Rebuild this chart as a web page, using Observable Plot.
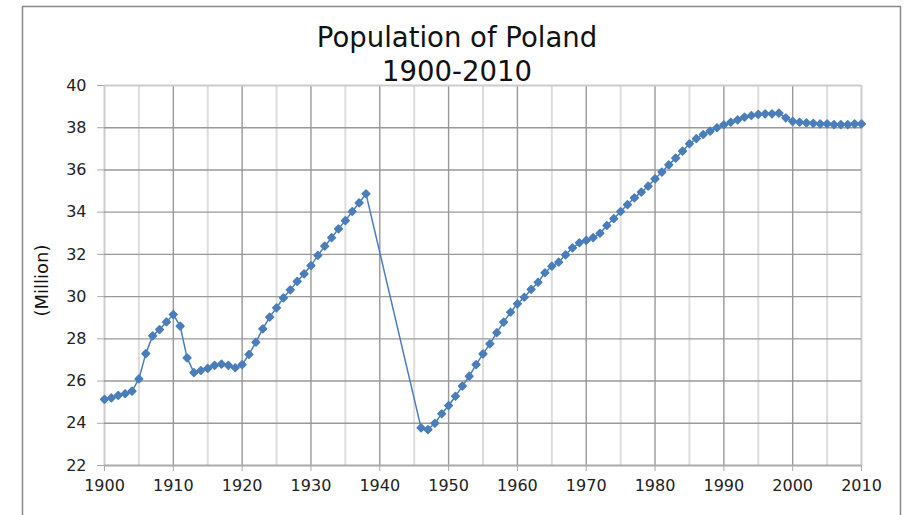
<!DOCTYPE html>
<html>
<head>
<meta charset="utf-8">
<script src="https://cdn.jsdelivr.net/npm/d3@7"></script>
<script src="https://cdn.jsdelivr.net/npm/@observablehq/plot@0.6"></script>
<style>
  html, body { margin: 0; padding: 0; background: #fff; }
</style>
</head>
<body>
<div id="chart"></div>
<script>
const titleLines = ["Population of Poland", "1900-2010"];
const yLabel = "(Million)";

const years = [
  1900,1901,1902,1903,1904,1905,1906,1907,1908,1909,
  1910,1911,1912,1913,1914,1915,1916,1917,1918,1919,
  1920,1921,1922,1923,1924,1925,1926,1927,1928,1929,
  1930,1931,1932,1933,1934,1935,1936,1937,1938,
  1946,1947,1948,1949,1950,1951,1952,1953,1954,1955,
  1956,1957,1958,1959,1960,1961,1962,1963,1964,1965,
  1966,1967,1968,1969,1970,1971,1972,1973,1974,1975,
  1976,1977,1978,1979,1980,1981,1982,1983,1984,1985,
  1986,1987,1988,1989,1990,1991,1992,1993,1994,1995,
  1996,1997,1998,1999,2000,2001,2002,2003,2004,2005,
  2006,2007,2008,2009,2010
];
const population = [
  25.13,25.20,25.32,25.40,25.52,26.10,27.30,28.14,28.44,28.80,
  29.15,28.60,27.10,26.40,26.50,26.60,26.74,26.80,26.74,26.63,
  26.78,27.26,27.84,28.47,29.03,29.47,29.94,30.32,30.72,31.08,
  31.47,31.95,32.39,32.79,33.21,33.60,34.03,34.44,34.87,
  23.78,23.70,24.00,24.45,24.84,25.28,25.76,26.23,26.78,27.29,
  27.76,28.29,28.79,29.26,29.66,29.97,30.34,30.68,31.13,31.44,
  31.63,31.98,32.31,32.55,32.66,32.79,33.00,33.37,33.69,34.03,
  34.36,34.68,34.95,35.23,35.58,35.90,36.24,36.56,36.89,37.24,
  37.48,37.68,37.84,38.00,38.14,38.26,38.37,38.50,38.58,38.63,
  38.66,38.66,38.69,38.47,38.30,38.26,38.23,38.21,38.18,38.18,
  38.15,38.15,38.15,38.18,38.18
];

const xTicks = [1900,1910,1920,1930,1940,1950,1960,1970,1980,1990,2000,2010];
const xMajorInner = [1910,1920,1930,1940,1950,1960,1970,1980,1990,2000];
const xMinor = [1905,1915,1925,1935,1945,1955,1965,1975,1985,1995,2005];
const xEdges = [1900,2010];
const yTicks = [22,24,26,28,30,32,34,36,38,40];
const yInner = [24,26,28,30,32,34,36,38];

const data = years.map((y, i) => ({year: y, value: population[i]}));

const blue = "#4a7ebb";

const chart = Plot.plot({
  width: 904,
  height: 515,
  marginLeft: 104,
  marginRight: 43,
  marginTop: 85,
  marginBottom: 50,
  style: {fontFamily: "DejaVu Sans", fontSize: "16px", background: "#fff", color: "#222"},
  x: {domain: [1900, 2010], ticks: xTicks, tickFormat: "d", tickSize: 6, tickPadding: 8, label: null},
  y: {domain: [22, 40], ticks: yTicks, tickSize: 7, tickPadding: 11, label: null},
  marks: [
    Plot.frame({insetLeft: -82, insetTop: -79, insetRight: -39, insetBottom: -80, stroke: "#888", strokeWidth: 1.5}),
    Plot.ruleX(xMinor, {stroke: "#ddd", strokeWidth: 2}),
    Plot.ruleX(xMajorInner, {stroke: "#999", strokeWidth: 1.4}),
    Plot.ruleX(xEdges, {stroke: "#ccc", strokeWidth: 2}),
    Plot.ruleY(yInner, {stroke: "#999", strokeWidth: 1.4}),
    Plot.ruleY([40], {stroke: "#ccc", strokeWidth: 2}),
    Plot.ruleY([22], {stroke: "#aaa", strokeWidth: 2}),
    Plot.axisX({ticks: xTicks, tickFormat: "d", tickSize: 6, tickPadding: 8, stroke: "#aaa", fill: "#222", label: null}),
    Plot.axisY({ticks: yTicks, tickSize: 7, tickPadding: 11, stroke: "#aaa", fill: "#222", label: null}),
    Plot.line(data, {x: "year", y: "value", stroke: blue, strokeWidth: 1.5}),
    Plot.dot(data, {x: "year", y: "value", symbol: "diamond2", r: 3.4, fill: blue, stroke: blue, strokeWidth: 1.6, strokeLinejoin: "round"}),
    Plot.text([titleLines[0]], {frameAnchor: "top", dx: -26, dy: -58, fontSize: 27.5, fill: "#111"}),
    Plot.text([titleLines[1]], {frameAnchor: "top", dx: -26, dy: -24, fontSize: 27.5, fill: "#111"}),
    Plot.text([yLabel], {frameAnchor: "left", textAnchor: "middle", dx: -62, dy: 5, rotate: -90, fontSize: 18, fill: "#111"})
  ]
});

document.getElementById("chart").appendChild(chart);
</script>
</body>
</html>
